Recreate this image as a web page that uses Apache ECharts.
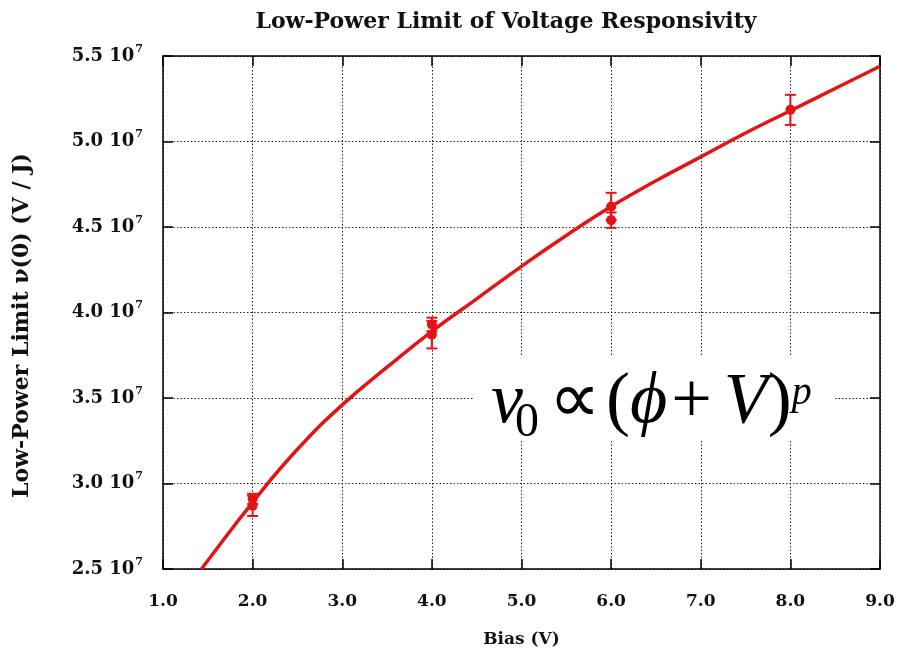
<!DOCTYPE html>
<html>
<head>
<meta charset="utf-8">
<script src="https://cdn.jsdelivr.net/npm/echarts@6/dist/echarts.min.js"></script>
<style>html,body{margin:0;padding:0;background:#fff}#c{width:898px;height:656px}</style>
</head>
<body>
<div id="c"></div>
<script>
// Fitted curve (Bias V, responsivity V/J)
var curveX = [1.43, 1.5, 2.0, 2.5, 3.0, 3.5, 4.0, 4.5, 5.0, 5.5, 6.0, 6.5, 7.0, 7.5, 8.0, 8.5, 9.0];
var curveY = [2.50e7, 2.55e7, 2.89e7, 3.20e7, 3.46e7, 3.68e7, 3.89e7, 4.08e7, 4.27e7, 4.45e7, 4.62e7, 4.77e7, 4.91e7, 5.05e7, 5.18e7, 5.31e7, 5.44e7];
// Measured points with error bars
var pointX = [2, 2, 4, 4, 6, 6, 8];
var pointY = [2.91e7, 2.87e7, 3.93e7, 3.87e7, 4.62e7, 4.54e7, 5.185e7];
var pointErr = [0.03e7, 0.06e7, 0.04e7, 0.08e7, 0.08e7, 0.045e7, 0.088e7];

var RED = '#e41414';
var FONT = 'DejaVu Serif';
var MATH = 'Liberation Serif';
var chart = echarts.init(document.getElementById('c'));

var curveData = curveX.map(function (x, i) { return [x, curveY[i]]; });
var pts = pointX.map(function (x, i) { return [x, pointY[i], pointErr[i]]; });

function yFmt(v) { return '{a|' + (v / 1e7).toFixed(1) + ' 10}{s|7}'; }

var gridLine = { show: true, lineStyle: { color: '#222', width: 1, type: [1.5, 2] } };
var axLine = { show: true, lineStyle: { color: '#000', width: 1.5 } };
var tick = { show: true, inside: true, length: 10, lineStyle: { color: '#000', width: 1.5 } };

chart.setOption({
  animation: false,
  backgroundColor: '#fff',
  title: {
    text: 'Low-Power Limit of Voltage Responsivity',
    left: 501, textAlign: 'center', top: 6,
    textStyle: { fontFamily: FONT, fontWeight: 'bold', fontSize: 22, color: '#111' }
  },
  grid: { left: 163, right: 18, top: 56, bottom: 87 },
  xAxis: [{
    type: 'value', min: 1, max: 9, interval: 1,
    name: 'Bias (V)', nameLocation: 'middle', nameGap: 62,
    nameTextStyle: { fontFamily: FONT, fontWeight: 'bold', fontSize: 17, color: '#111' },
    axisLine: axLine, axisTick: tick, splitLine: gridLine,
    axisLabel: { margin: 24, fontFamily: FONT, fontWeight: 'bold', fontSize: 17, color: '#111',
      formatter: function (v) { return v.toFixed(1); } }
  }, {
    type: 'value', min: 1, max: 9, interval: 1, position: 'top',
    axisLine: axLine, axisTick: tick, splitLine: { show: false }, axisLabel: { show: false }
  }],
  yAxis: [{
    type: 'value', min: 2.5e7, max: 5.5e7, interval: 0.5e7,
    name: 'Low-Power Limit \u03bd(0) (V / J)', nameLocation: 'middle', nameGap: 130,
    nameTextStyle: { fontFamily: FONT, fontWeight: 'bold', fontSize: 22, color: '#111', padding: [0, 26, 0, 0] },
    axisLine: axLine, axisTick: tick, splitLine: gridLine,
    axisLabel: {
      margin: 20, formatter: yFmt,
      rich: {
        a: { fontFamily: FONT, fontWeight: 'bold', fontSize: 18, color: '#111' },
        s: { fontFamily: FONT, fontWeight: 'bold', fontSize: 11, color: '#111', verticalAlign: 'top', padding: [0, 0, 14, 1] }
      }
    }
  }, {
    type: 'value', min: 2.5e7, max: 5.5e7, interval: 0.5e7, position: 'right',
    axisLine: axLine, axisTick: tick, splitLine: { show: false }, axisLabel: { show: false }
  }],
  graphic: [{
    type: 'rect', shape: { x: 474, y: 355, width: 360, height: 85 },
    style: { fill: '#fff' }, z: 5
  }, {
    type: 'text', left: 491, top: 367, z: 6,
    style: {
      text: '{i|\u03bd}{g|\u221d}{p|(}{i|\u03d5}{pl|+}{i|V}{n|)}{sup|p}',
      rich: {
        i: { fontFamily: MATH, fontStyle: 'italic', fontSize: 72, fill: '#000', verticalAlign: 'bottom' },
        n: { fontFamily: MATH, fontSize: 72, fill: '#000', verticalAlign: 'bottom' },
        g: { fontFamily: MATH, fontSize: 72, fill: '#000', verticalAlign: 'bottom', padding: [0, 0, 0, 26] },
        p: { fontFamily: MATH, fontSize: 72, fill: '#000', verticalAlign: 'bottom', padding: [0, 0, 0, 6] },
        pl: { fontFamily: MATH, fontSize: 72, fill: '#000', verticalAlign: 'bottom', padding: [0, 12, 0, 4] },
        sup: { fontFamily: MATH, fontStyle: 'italic', fontSize: 40, fill: '#000', verticalAlign: 'top', padding: [6, 0, 0, 0] }
      }
    }
  }, {
    type: 'text', left: 515, top: 399, z: 7,
    style: { text: '0', fontFamily: MATH, fontSize: 48, fill: '#000' }
  }],
  series: [{
    type: 'line', data: curveData, smooth: true, showSymbol: false, symbol: 'none',
    lineStyle: { color: RED, width: 3.5 }, z: 3
  }, {
    type: 'custom', data: pts, z: 4,
    renderItem: function (params, api) {
      var x = api.value(0), y = api.value(1), e = api.value(2);
      var top = api.coord([x, y + e]), bot = api.coord([x, y - e]), c = api.coord([x, y]);
      var st = { stroke: RED, lineWidth: 2 };
      return {
        type: 'group', children: [
          { type: 'line', shape: { x1: top[0], y1: top[1], x2: bot[0], y2: bot[1] }, style: st },
          { type: 'line', shape: { x1: top[0] - 5.5, y1: top[1], x2: top[0] + 5.5, y2: top[1] }, style: st },
          { type: 'line', shape: { x1: bot[0] - 5.5, y1: bot[1], x2: bot[0] + 5.5, y2: bot[1] }, style: st },
          { type: 'circle', shape: { cx: c[0], cy: c[1], r: 5 }, style: { fill: RED } }
        ]
      };
    }
  }]
});
</script>
</body>
</html>
